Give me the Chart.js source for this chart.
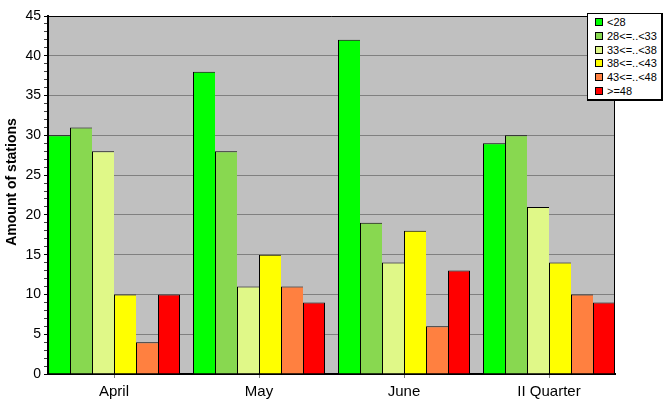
<!DOCTYPE html>
<html>
<head>
<meta charset="utf-8">
<script src="https://cdn.jsdelivr.net/npm/chart.js@4/dist/chart.umd.min.js"></script>
<style>
html,body{margin:0;padding:0;background:#fff;}
#wrap{position:relative;width:667px;height:415px;}
#legend{position:absolute;left:587px;top:13px;width:73px;height:85px;background:#fff;border:1px solid #000;border-right-width:2px;border-bottom-width:2px;font-family:"Liberation Sans",Arial,sans-serif;font-size:11px;color:#000;}
#legend .it{position:absolute;left:7px;height:12px;line-height:12px;white-space:nowrap;}
#legend .sw{display:inline-block;width:6px;height:6px;border:1px solid #000;vertical-align:middle;margin-right:4px;position:relative;top:-1px;}
</style>
</head>
<body>
<div id="wrap"><canvas id="c" width="667" height="415"></canvas><div id="legend"></div></div>
<script>
const categories = ["April", "May", "June", "II Quarter"];
const seriesNames = ["<28", "28<=..<33", "33<=..<38", "38<=..<43", "43<=..<48", ">=48"];
const seriesColors = ["#00ff00", "#88d850", "#e0f888", "#ffff00", "#ff8040", "#ff0000"];
const s1 = [30, 38, 42, 29];
const s2 = [31, 28, 19, 30];
const s3 = [28, 11, 14, 21];
const s4 = [10, 15, 18, 14];
const s5 = [4, 11, 6, 10];
const s6 = [10, 9, 13, 9];
const seriesValues = [s1, s2, s3, s4, s5, s6];
const yTicks = [0, 5, 10, 15, 20, 25, 30, 35, 40, 45];
const yTitle = "Amount of stations";

const FONT = "'Liberation Sans', Arial, sans-serif";

const datasets = seriesValues.map((vals, k) => ({
  label: seriesNames[k],
  data: vals.map((v, i) => ({x: i, y: v})),
  backgroundColor: seriesColors[k],
  borderColor: "#000",
  borderWidth: {left: 1, top: 1, right: k === seriesValues.length - 1 ? 1 : 0, bottom: 0},
  borderSkipped: false,
  categoryPercentage: 132 / 145,
  barPercentage: 1
}));

const plotBg = {
  id: "plotBg",
  beforeDraw(chart) {
    const {ctx, chartArea: a} = chart;
    ctx.save();
    ctx.fillStyle = "#c0c0c0";
    ctx.fillRect(a.left, a.top, a.right - a.left, a.bottom - a.top);
    ctx.restore();
  },
  afterDraw(chart) {
    const {ctx, chartArea: a} = chart;
    ctx.save();
    ctx.strokeStyle = "#000";
    ctx.lineWidth = 1;
    ctx.beginPath();
    ctx.moveTo(a.left, a.top + 0.5);
    ctx.lineTo(a.right - 0.5, a.top + 0.5);
    ctx.lineTo(a.right - 0.5, a.bottom);
    ctx.stroke();
    ctx.translate(12, 182);
    ctx.rotate(-Math.PI / 2);
    ctx.fillStyle = "#000";
    ctx.font = "bold 14px " + FONT;
    ctx.textAlign = "center";
    ctx.textBaseline = "middle";
    ctx.fillText(yTitle, 0, 0);
    ctx.restore();
  }
};

const half = 66 / 145;

new Chart(document.getElementById("c"), {
  type: "bar",
  data: {datasets},
  plugins: [plotBg],
  options: {
    responsive: false,
    animation: false,
    devicePixelRatio: 1,
    layout: {padding: {top: 16, right: 52, left: 0, bottom: 0}},
    plugins: {legend: {display: false}, tooltip: {enabled: false}},
    scales: {
      x: {
        type: "linear",
        offset: false,
        min: -half,
        max: categories.length - 1 + half,
        afterBuildTicks(scale) { scale.ticks = categories.map((c, i) => ({value: i})); },
        afterFit(scale) { scale.height = 41; },
        grid: {offset: false, drawOnChartArea: false, drawTicks: true, tickLength: 4, tickColor: "#808080"},
        border: {display: true, color: "#000", width: 2},
        ticks: {
          autoSkip: false, maxRotation: 0, padding: 5,
          color: "#000", font: {family: FONT, size: 15},
          callback: (v) => categories[v]
        }
      },
      y: {
        min: 0,
        max: 45,
        afterBuildTicks(scale) {
          const t = [];
          for (let v = 0; v <= 45; v++) t.push({value: v});
          scale.ticks = t;
        },
        afterFit(scale) { scale.width = 48; },
        grid: {
          color: (c) => (c.tick && c.tick.value % 5 === 0 && c.tick.value !== 0 && c.tick.value !== 45) ? "#808080" : "rgba(0,0,0,0)",
          tickColor: (c) => (c.tick && c.tick.value % 5 === 0) ? "#000" : "#404040",
          drawTicks: true, tickLength: 4, lineWidth: 1
        },
        border: {display: true, color: "#000", width: 2},
        ticks: {
          autoSkip: false, padding: 3,
          color: "#000", font: {family: FONT, size: 14},
          callback: (v) => yTicks.includes(v) ? String(v) : ""
        }
      }
    }
  }
});

const leg = document.getElementById("legend");
seriesNames.forEach((n, k) => {
  const d = document.createElement("div");
  d.className = "it";
  d.style.top = (2 + k * 13.8) + "px";
  const sw = document.createElement("span");
  sw.className = "sw";
  sw.style.background = seriesColors[k];
  d.appendChild(sw);
  d.appendChild(document.createTextNode(n));
  leg.appendChild(d);
});
</script>
</body>
</html>
